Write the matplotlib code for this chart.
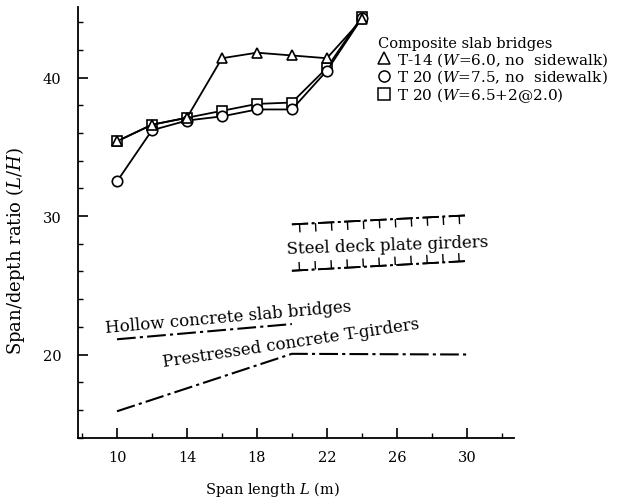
import matplotlib
matplotlib.use("Agg")
import matplotlib.pyplot as plt
from matplotlib.lines import Line2D
from matplotlib import patheffects as pe
from matplotlib.ticker import MultipleLocator

# ── data ──────────────────────────────────────────────────────────
span = [10, 12, 14, 16, 18, 20, 22, 24]
t14_w60 = [35.4, 36.6, 37.1, 41.4, 41.8, 41.6, 41.4, 44.2]
t20_w75 = [32.5, 36.2, 36.9, 37.2, 37.7, 37.7, 40.5, 44.3]
t20_w65 = [35.4, 36.6, 37.1, 37.6, 38.1, 38.2, 40.7, 44.4]

steel_x = [20, 30]
steel_upper = [29.4, 30.05]
steel_lower = [26.05, 26.75]

hollow_x = [10, 20]
hollow_y = [21.1, 22.2]

prest_x = [10, 20, 30]
prest_y = [15.9, 20.05, 20.0]

legend_labels = [
    "T-14 ($W$=6.0, no  sidewalk)",
    "T 20 ($W$=7.5, no  sidewalk)",
    "T 20 ($W$=6.5+2@2.0)",
]

plt.rcParams["font.family"] = ["DejaVu Serif"]
plt.rcParams["mathtext.fontset"] = "dejavuserif"

W, H = 622, 502
fig = plt.figure(figsize=(W / 100, H / 100), dpi=100, facecolor="white")
ax = fig.add_axes([78 / W, 1 - 439 / H, (514 - 78) / W, (439 - 8) / H])
ax.set_xlim(7.77, 32.7)
ax.set_ylim(13.97, 45.1)
for s in ("top", "right"):
    ax.spines[s].set_visible(False)
for s in ("left", "bottom"):
    ax.spines[s].set_linewidth(1.3)

ax.set_xticks([10, 14, 18, 22, 26, 30])
ax.xaxis.set_minor_locator(MultipleLocator(2))
ax.set_yticks([20, 30, 40])
ax.yaxis.set_minor_locator(MultipleLocator(2))
ax.tick_params(which="major", direction="in", length=7, width=1.2, labelsize=10.5)
ax.tick_params(which="minor", direction="in", length=3.5, width=1.0)
ax.tick_params(axis="y", pad=12)
ax.tick_params(axis="x", pad=9)

# ── composite slab bridges ───────────────────────────────────────
mk = dict(color="black", lw=1.3, markersize=7.5, mfc="white", mec="black", mew=1.2)
ax.plot(span, t20_w65, marker="s", **mk)
ax.plot(span, t20_w75, marker="o", **mk)
ax.plot(span, t14_w60, marker="^", **mk)

# ── design bands ──────────────────────────────────────────────────
dashdot = (0, (9, 2, 1.5, 2))
ax.plot(steel_x, steel_upper, color="black", lw=1.3, linestyle=dashdot,
        path_effects=[pe.Normal(), pe.withTickedStroke(angle=-90, spacing=11, length=0.55, linewidth=1.0)])
ax.plot(steel_x, steel_lower, color="black", lw=1.3, linestyle=dashdot,
        path_effects=[pe.Normal(), pe.withTickedStroke(angle=90, spacing=11, length=0.55, linewidth=1.0)])
ax.plot(hollow_x, hollow_y, color="black", lw=1.5, linestyle=dashdot)
ax.plot(prest_x, prest_y, color="black", lw=1.5, linestyle=dashdot)

ax.text(19.7, 27.3, "Steel deck plate girders", fontsize=12, rotation=2,
        rotation_mode="anchor", ha="left", va="baseline")
ax.text(9.37, 21.6, "Hollow concrete slab bridges", fontsize=12, rotation=5,
        rotation_mode="anchor", ha="left", va="baseline")
ax.text(12.65, 19.2, "Prestressed concrete T-girders", fontsize=12, rotation=8.5,
        rotation_mode="anchor", ha="left", va="baseline")

# ── legend ────────────────────────────────────────────────────────
handles = [
    Line2D([], [], ls="none", marker=m, markersize=8, mfc="white", mec="black", mew=1.1)
    for m in ("^", "o", "s")
]
leg = ax.legend(handles, legend_labels, title="Composite slab bridges",
                loc="upper left", bbox_to_anchor=(378 / W, 1 - 37 / H),
                bbox_transform=fig.transFigure, frameon=False, fontsize=11,
                title_fontsize=10.5, handlelength=0.8, handletextpad=0.45,
                labelspacing=0.0, borderpad=0, borderaxespad=0, alignment="left")

ax.set_xlabel("Span length $L$ (m)", fontsize=10.5)
ax.xaxis.set_label_coords((272 - 78) / (514 - 78), -(480 - 439) / (439 - 8))
ax.set_ylabel("Span/depth ratio ($L/H$)", fontsize=13)
ax.yaxis.set_label_coords(-(78 - 27) / (514 - 78), (439 - 251) / (439 - 8))

fig.savefig("out.png", dpi=100)
